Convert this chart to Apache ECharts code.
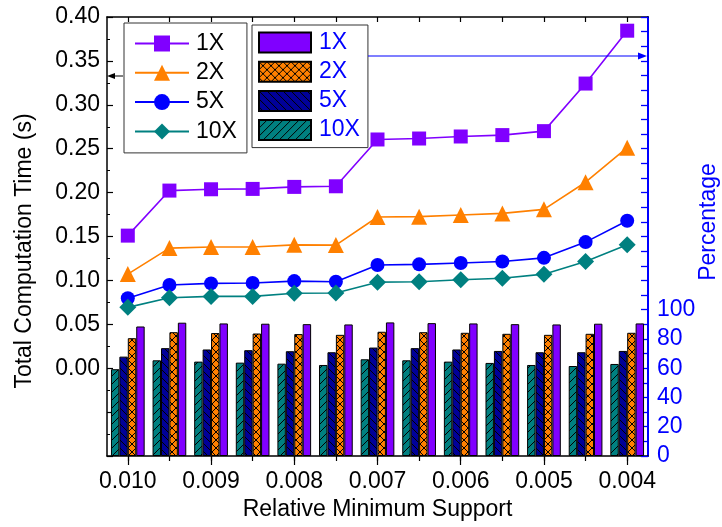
<!DOCTYPE html>
<html>
<head>
<meta charset="utf-8">
<script src="https://cdn.jsdelivr.net/npm/echarts@6/dist/echarts.min.js"></script>
<style>
html,body{margin:0;padding:0;background:#fff;}
#c{width:722px;height:527px;}
</style>
</head>
<body>
<div id="c"></div>
<script>
// ---- data ----
const categories = ['0.010','0.0095','0.009','0.0085','0.008','0.0075','0.007','0.0065','0.006','0.0055','0.005','0.0045','0.004'];
// total computation time (s), left axis
const time1X  = [0.151, 0.2023, 0.2038, 0.2042, 0.2065, 0.2072, 0.2605, 0.2616, 0.2639, 0.2655, 0.270, 0.3242, 0.3844];
const time2X  = [0.1072, 0.1368, 0.138, 0.138, 0.1405, 0.1402, 0.1722, 0.1726, 0.1745, 0.1763, 0.1809, 0.2118, 0.2511];
const time5X  = [0.0796, 0.0947, 0.0966, 0.097, 0.0992, 0.0985, 0.1175, 0.1183, 0.1198, 0.1215, 0.1257, 0.1436, 0.168];
const time10X = [0.0693, 0.0803, 0.0818, 0.0818, 0.0853, 0.0857, 0.098, 0.0984, 0.1007, 0.1025, 0.1071, 0.1215, 0.1406];
// percentage, right axis
const pct1X  = [88.5, 91.1, 90.6, 90.4, 90.1, 89.9, 91.3, 90.8, 90.6, 90.1, 89.9, 90.4, 90.6];
const pct2X  = [80.5, 84.6, 84.0, 83.7, 83.3, 82.8, 84.9, 84.6, 84.2, 83.5, 82.8, 83.5, 84.2];
const pct5X  = [67.9, 73.7, 72.8, 72.3, 71.6, 70.9, 74.1, 73.7, 72.8, 71.8, 70.9, 70.9, 71.8];
const pct10X = [59.3, 65.4, 64.5, 63.8, 63.1, 62.2, 66.1, 65.4, 64.5, 63.6, 62.2, 61.5, 62.9];
const leftTicks = { min: -0.1, max: 0.4, step: 0.05 };
const rightTicks = { min: 0, max: 300, step: 20, labelMax: 100 };

const FONT = 'Liberation Sans, Arial, sans-serif';
const PURPLE = '#8000ff', ORANGE = '#ff8000', BLUE = '#0000ff', NAVY = '#000099', TEAL = '#008080';

function makePattern(bg, kind) {
  const s = 8;
  const cv = document.createElement('canvas');
  cv.width = s; cv.height = s;
  const g = cv.getContext('2d');
  g.fillStyle = bg; g.fillRect(0, 0, s, s);
  g.strokeStyle = '#000'; g.lineWidth = 1;
  g.beginPath();
  if (kind === 'fwd' || kind === 'cross') {
    g.moveTo(-1, s + 1); g.lineTo(s + 1, -1);
    g.moveTo(-1, 1); g.lineTo(1, -1);
    g.moveTo(s - 1, s + 1); g.lineTo(s + 1, s - 1);
  }
  if (kind === 'back' || kind === 'cross') {
    g.moveTo(-1, -1); g.lineTo(s + 1, s + 1);
    g.moveTo(s - 1, -1); g.lineTo(s + 1, 1);
    g.moveTo(-1, s - 1); g.lineTo(1, s + 1);
  }
  g.stroke();
  return { image: cv, repeat: 'repeat' };
}

const chart = echarts.init(document.getElementById('c'), null, { renderer: 'canvas' });

function barSeries(name, data, color) {
  return {
    type: 'bar', name: name, data: data, xAxisIndex: 0, yAxisIndex: 1,
    barGap: '0%', barCategoryGap: '19%',
    itemStyle: { color: color, borderColor: '#000', borderWidth: 1 },
    z: 2
  };
}
function lineSeries(name, data, color, symbol, size) {
  return {
    type: 'line', name: name, data: data, xAxisIndex: 0, yAxisIndex: 0,
    symbol: symbol, symbolSize: size, showAllSymbol: true,
    lineStyle: { color: color, width: 1.6 },
    itemStyle: { color: color },
    z: 5
  };
}

const option = {
  animation: false,
  backgroundColor: '#fff',
  textStyle: { fontFamily: FONT },
  grid: { left: 107, right: 74, top: 17, bottom: 71, containLabel: false },
  legend: [
    {
      data: ['1X', '2X', '5X', '10X'], orient: 'vertical', left: 124, top: 23,
      padding: [9, 10, 10, 10], itemWidth: 54, itemHeight: 20, itemGap: 6.3,
      borderColor: '#333', borderWidth: 1, selectedMode: false,
      textStyle: { fontSize: 23, color: '#000', fontFamily: FONT, padding: [0, 0, 0, 2] }
    },
    {
      data: ['b1X', 'b2X', 'b5X', 'b10X'], orient: 'vertical', left: 252, top: 25,
      padding: [6, 8, 6, 6], itemWidth: 52, itemHeight: 20, itemGap: 6.2, icon: 'rect',
      borderColor: '#333', borderWidth: 1, selectedMode: false,
      formatter: function (n) { return n.replace(/^b/, ''); },
      textStyle: { fontSize: 23, color: BLUE, fontFamily: FONT, padding: [0, 0, 0, 3] }
    }
  ],
  xAxis: [
    {
      type: 'category', data: categories, position: 'bottom', boundaryGap: true,
      axisLine: { show: true, onZero: false, lineStyle: { color: '#000', width: 1.5 } },
      axisTick: { show: true, alignWithLabel: true, interval: 0, length: 5, lineStyle: { color: '#000', width: 1.2 } },
      axisLabel: { interval: 1, fontSize: 23, color: '#000', margin: 14, fontFamily: FONT },
      name: 'Relative Minimum Support', nameLocation: 'middle', nameGap: 40,
      nameTextStyle: { fontSize: 23, color: '#000', fontFamily: FONT },
      splitLine: { show: false }
    },
    {
      type: 'category', data: categories, position: 'bottom', boundaryGap: true,
      axisLine: { show: false, onZero: false },
      axisTick: { show: true, alignWithLabel: true, interval: 1, length: 9, lineStyle: { color: '#000', width: 1.2 } },
      axisLabel: { show: false }, splitLine: { show: false }
    },
    {
      type: 'category', data: categories, position: 'top', boundaryGap: true,
      axisLine: { show: true, onZero: false, lineStyle: { color: '#000', width: 1.5 } },
      axisTick: { show: true, inside: true, alignWithLabel: true, interval: 0, length: 5, lineStyle: { color: '#000', width: 1.2 } },
      axisLabel: { show: false }, splitLine: { show: false }
    }
  ],
  yAxis: [
    {
      type: 'value', position: 'left', min: leftTicks.min, max: leftTicks.max, interval: leftTicks.step,
      axisLine: { show: true, onZero: false, lineStyle: { color: '#000', width: 1.5 } },
      axisTick: { show: true, inside: true, length: 6, lineStyle: { color: '#000', width: 1.2 } },
      minorTick: { show: true, splitNumber: 2, length: 3, lineStyle: { color: '#000', width: 1 } },
      axisLabel: {
        fontSize: 23, color: '#000', margin: 7, fontFamily: FONT,
        formatter: function (v) { return v < -1e-9 ? '' : v.toFixed(2); }
      },
      splitLine: { show: false }
    },
    {
      type: 'value', position: 'right', min: rightTicks.min, max: rightTicks.max, interval: rightTicks.step,
      axisLine: { show: true, onZero: false, lineStyle: { color: BLUE, width: 2 } },
      axisTick: { show: true, inside: true, length: 7, lineStyle: { color: BLUE, width: 1.3 } },
      minorTick: { show: true, splitNumber: 2, length: 7, lineStyle: { color: BLUE, width: 1.3 } },
      axisLabel: {
        fontSize: 23, color: BLUE, margin: 9, fontFamily: FONT,
        formatter: function (v) { return v <= rightTicks.labelMax + 1e-9 ? String(v) : ''; }
      },
      splitLine: { show: false }
    }
  ],
  series: [
    barSeries('b10X', pct10X, makePattern(TEAL, 'fwd')),
    barSeries('b5X', pct5X, makePattern(NAVY, 'back')),
    barSeries('b2X', pct2X, makePattern(ORANGE, 'cross')),
    barSeries('b1X', pct1X, PURPLE),
    lineSeries('1X', time1X, PURPLE, 'rect', 14),
    lineSeries('2X', time2X, ORANGE, 'triangle', 16),
    lineSeries('5X', time5X, BLUE, 'circle', 14),
    lineSeries('10X', time10X, TEAL, 'diamond', 17)
  ],
  graphic: [
    { type: 'text', x: 25, y: 251, rotation: Math.PI / 2,
      style: { text: 'Total Computation Time (s)', font: '23px ' + FONT, fill: '#000', align: 'center', verticalAlign: 'middle' } },
    { type: 'text', x: 709, y: 222, rotation: Math.PI / 2,
      style: { text: 'Percentage', font: '23px ' + FONT, fill: BLUE, align: 'center', verticalAlign: 'middle' } },
    // arrow from left legend to left axis
    { type: 'line', shape: { x1: 123, y1: 76, x2: 112, y2: 76 }, style: { stroke: '#000', lineWidth: 1 }, z: 10 },
    { type: 'polygon', shape: { points: [[107, 76], [115, 73], [115, 79]] }, style: { fill: '#000' }, z: 10 },
    // arrow from right legend to right axis
    { type: 'line', shape: { x1: 368, y1: 56, x2: 640, y2: 56 }, style: { stroke: BLUE, lineWidth: 1.2 }, z: 10 },
    { type: 'polygon', shape: { points: [[647, 56], [638, 52.5], [638, 59.5]] }, style: { fill: BLUE }, z: 10 }
  ]
};
chart.setOption(option);
</script>
</body>
</html>
